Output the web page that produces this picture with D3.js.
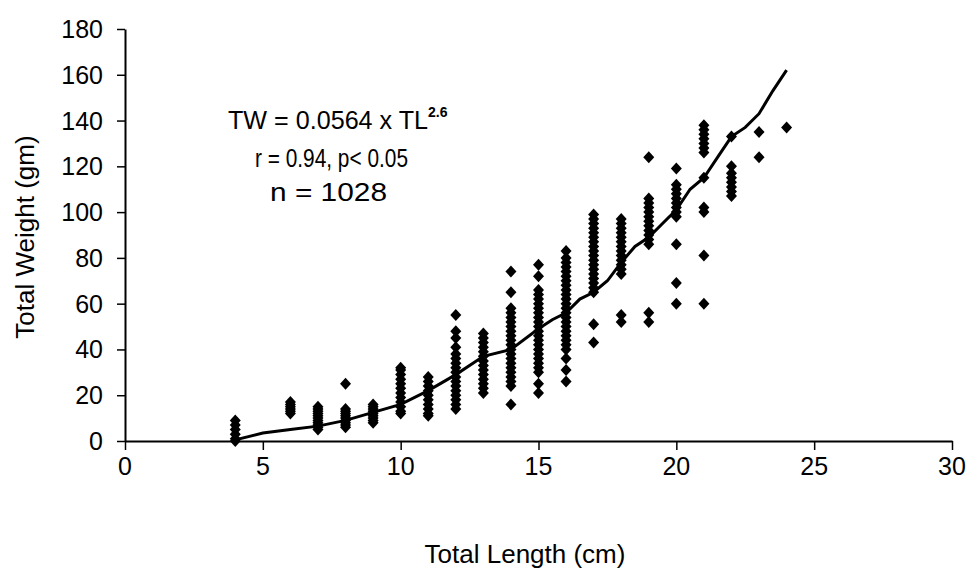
<!DOCTYPE html>
<html>
<head>
<meta charset="utf-8">
<script src="https://cdn.jsdelivr.net/npm/d3@7"></script>
<style>
  body { margin: 0; background: #fff; }
  svg text { font-family: "Liberation Sans", Arial, sans-serif; fill: #000; }
</style>
</head>
<body>
<svg id="chart" width="969" height="572"></svg>
<script>
// length-weight scatter with fitted curve

const lengths = [4, 6, 7, 8, 9, 10, 11, 12, 13, 14, 15, 16, 17, 18, 19, 20, 21, 22, 23, 24];
const weightSets = [
  [0, 1, 3, 5, 7, 9],
  [12, 13, 14, 15, 16, 17],
  [5, 6, 7, 8, 9, 10, 11, 12, 13, 14, 15],
  [6, 7, 8, 9, 10, 11, 12, 13, 14, 25],
  [8, 9, 10, 11, 12, 13, 14, 15, 16],
  [12, 13, 15, 17, 19, 21, 23, 25, 27, 29, 31, 32],
  [11, 12, 14, 16, 18, 20, 22, 24, 26, 28],
  [14, 16, 18, 20, 22, 24, 26, 28, 30, 32, 34, 36, 38, 41, 45, 48, 55],
  [21, 23, 25, 27, 29, 31, 33, 35, 37, 39, 41, 43, 45, 47],
  [16, 24, 26, 28, 30, 32, 34, 36, 38, 40, 42, 44, 46, 48, 50, 52, 54, 56, 58, 65, 74],
  [21, 25, 30, 32, 34, 36, 38, 40, 42, 44, 46, 48, 50, 52, 54, 56, 58, 60, 62, 64, 66, 72, 77],
  [26, 31, 36, 40, 42, 44, 46, 48, 50, 52, 54, 56, 58, 60, 62, 64, 66, 68, 70, 72, 74, 76, 78, 80, 83],
  [43, 51, 65, 67, 69, 71, 73, 75, 77, 79, 81, 83, 85, 87, 89, 91, 93, 95, 97, 99],
  [52, 55, 73, 75, 77, 79, 81, 83, 85, 87, 89, 91, 93, 95, 97],
  [52, 56, 86, 88, 90, 92, 94, 96, 98, 100, 102, 104, 106, 124],
  [60, 69, 86, 98, 100, 102, 104, 106, 108, 110, 112, 119],
  [60, 81, 100, 102, 115, 126, 128, 130, 132, 134, 136, 138],
  [107, 109, 111, 113, 115, 117, 120, 133],
  [124, 135],
  [137]
];

// fitted curve
const fitLength = [4, 5, 6, 7, 8, 9, 10, 11, 12, 13, 14, 15, 15.5, 16, 16.5, 17, 17.5, 18, 18.5, 19, 19.5, 20, 20.5, 21, 21.5, 22, 22.5, 23, 23.5, 24];
const fitWeight = [0.5, 3.5, 5, 6.5, 9, 12.5, 16, 22, 29, 37, 40, 49, 53, 56, 62, 65, 70, 78, 85, 89, 95, 101, 110, 115, 124, 133, 137, 143, 153, 162];

const xTicks = [0, 5, 10, 15, 20, 25, 30];
const yTicks = [0, 20, 40, 60, 80, 100, 120, 140, 160, 180];

const points = [];
lengths.forEach((l, i) => weightSets[i].forEach(w => points.push({l, w})));

const svg = d3.select('#chart');
const plotL = 125, plotR = 952, plotT = 29, plotB = 441;

const x = d3.scaleLinear().domain([0, 30]).range([plotL, plotR]);
const y = d3.scaleLinear().domain([0, 180]).range([plotB, plotT]);

// axes (lines and ticks only, labels drawn below)
const xAxis = svg.append('g').attr('transform', `translate(0,${plotB})`)
  .call(d3.axisBottom(x).tickValues(xTicks).tickSize(9).tickSizeOuter(0).tickFormat(''));
const yAxis = svg.append('g').attr('transform', `translate(${plotL},0)`)
  .call(d3.axisLeft(y).tickValues(yTicks).tickSize(8).tickSizeOuter(0).tickFormat(''));

[xAxis, yAxis].forEach(a => {
  a.select('.domain').attr('stroke', '#000').attr('stroke-width', 2);
  a.selectAll('.tick line').attr('stroke', '#000').attr('stroke-width', 1.5);
});

svg.append('g').selectAll('text').data(xTicks).join('text')
  .attr('x', d => x(d)).attr('y', plotB + 34)
  .attr('text-anchor', 'middle')
  .style('font-size', '25px')
  .text(d => d);

svg.append('g').selectAll('text').data(yTicks).join('text')
  .attr('x', plotL - 22).attr('y', d => y(d) + 9)
  .attr('text-anchor', 'end')
  .style('font-size', '25px')
  .text(d => d);

// points
const diamond = 'M0,-6L5.5,0L0,6L-5.5,0Z';
svg.append('g').selectAll('path').data(points).join('path')
  .attr('d', diamond)
  .attr('transform', d => `translate(${x(d.l)},${y(d.w)})`)
  .attr('fill', '#000');

// fitted line
svg.append('path')
  .datum(fitLength.map((l, i) => [l, fitWeight[i]]))
  .attr('fill', 'none')
  .attr('stroke', '#000')
  .attr('stroke-width', 3)
  .attr('d', d3.line().x(d => x(d[0])).y(d => y(d[1])));

// equation
const eq = svg.append('text').attr('x', 228).attr('y', 129).style('font-size', '25px');
eq.append('tspan').attr('textLength', 200).attr('lengthAdjust', 'spacingAndGlyphs').text('TW = 0.0564 x TL');
eq.append('tspan').attr('dy', -12).style('font-size', '14px').style('font-weight', 'bold').text('2.6');

svg.append('text').attr('x', 255).attr('y', 167)
  .attr('textLength', 153).attr('lengthAdjust', 'spacingAndGlyphs')
  .style('font-size', '25px').text('r = 0.94, p< 0.05');
svg.append('text').attr('x', 270).attr('y', 201)
  .attr('textLength', 117).attr('lengthAdjust', 'spacingAndGlyphs')
  .style('font-size', '26px').text('n = 1028');

// axis titles
svg.append('text').attr('x', 525).attr('y', 563).attr('text-anchor', 'middle')
  .style('font-size', '26px').text('Total Length (cm)');
svg.append('text').attr('transform', 'translate(34,237) rotate(-90)').attr('text-anchor', 'middle')
  .style('font-size', '26px').text('Total Weight (gm)');
</script>
</body>
</html>
